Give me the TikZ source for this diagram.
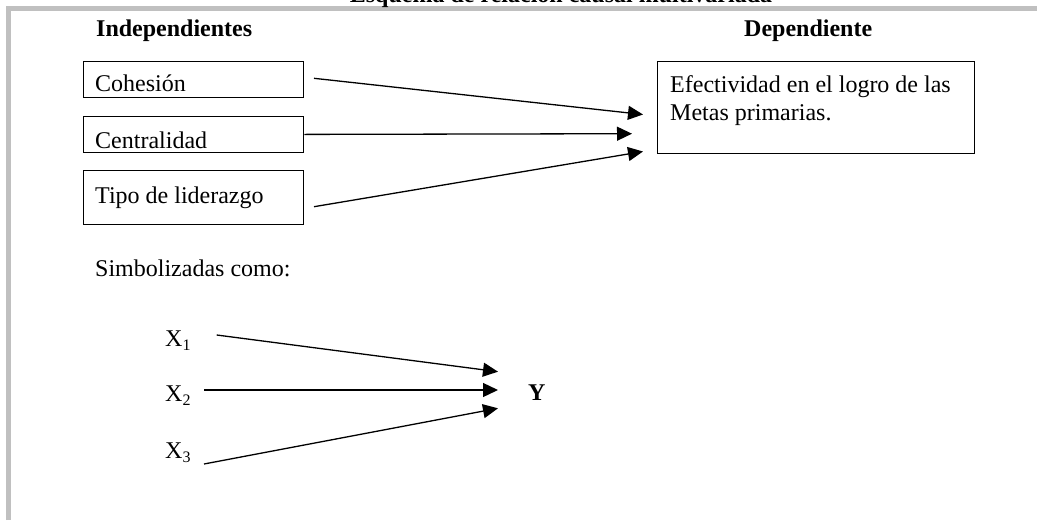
\documentclass[tikz,border=0pt]{standalone}
\usepackage{fontspec}
\setmainfont{Liberation Serif}
\usetikzlibrary{arrows.meta}
\definecolor{framegray}{RGB}{192,192,192}
\newcommand{\sub}[1]{\raisebox{-4pt}{\fontsize{16}{16}\selectfont #1}}
\begin{document}
\begin{tikzpicture}[x=1pt,y=-1pt,
  txt/.style={font=\fontsize{24}{28}\selectfont, inner sep=0pt, anchor=base west},
  btxt/.style={font=\fontsize{24}{28}\selectfont\bfseries, inner sep=0pt, anchor=base west},
  boxnode/.style={draw, line width=1.4pt, inner sep=0pt, anchor=north west},
  arr/.style={line width=1.3pt, -{Triangle[length=15pt,width=14pt]}},
  framerule/.style={draw=framegray, line width=5pt, line cap=butt, line join=miter}]
\useasboundingbox (0,0) rectangle (1037,520);
% frame
\draw[framerule] (8.5,520) -- (8.5,8.5) -- (1037,8.5);
% title (clipped at page top, as in the reference)
\node[btxt, anchor=base] (title) at (561,2.5) {Esquema de relación causal multivariada};
% headers
\node[btxt] (indep) at (96,36) {Independientes};
\node[btxt] (dep) at (744,36) {Dependiente};
% independent boxes
\node[boxnode, minimum width=220pt, minimum height=36pt] (coh) at (83,60.7) {};
\node[txt] (cohT) at (95,91.7) {Cohesión};
\node[boxnode, minimum width=220pt, minimum height=36pt] (cen) at (83,115.7) {};
\node[txt] (cenT) at (95,148) {Centralidad};
\node[boxnode, minimum width=220pt, minimum height=54pt] (tip) at (83,170) {};
\node[txt] (tipT) at (95,203.3) {Tipo de liderazgo};
% dependent box
\node[boxnode, minimum width=317pt, minimum height=92pt] (efe) at (657,60.5) {};
\node[txt] (efe1) at (670,92.3) {Efectividad en el logro de las};
\node[txt] (efe2) at (670,120.3) {Metas primarias.};
% arrows (top)
\coordinate (a1s) at (314,78.3);
\coordinate (a1e) at (643,114.5);
\coordinate (a2e) at (632,133.7);
\coordinate (a3s) at (314,206.7);
\coordinate (a3e) at (643,151.5);
\draw[arr] (a1s) -- (a1e);
\draw[arr] (cen.east) -- (a2e);
\draw[arr] (a3s) -- (a3e);
% symbolised
\node[txt] (simb) at (95,276) {Simbolizadas como:};
\node[txt] (x1) at (165,346) {X\sub{1}};
\node[txt] (x2) at (165,401) {X\sub{2}};
\node[txt] (x3) at (165,458) {X\sub{3}};
\node[btxt] (y) at (528,400) {Y};
\coordinate (b1s) at (216.7,335);
\coordinate (b1e) at (498,371.7);
\coordinate (b2s) at (204,390);
\coordinate (b2e) at (498,390);
\coordinate (b3s) at (204,464);
\coordinate (b3e) at (498,408.3);
\draw[arr] (b1s) -- (b1e);
\draw[arr] (b2s) -- (b2e);
\draw[arr] (b3s) -- (b3e);
\end{tikzpicture}
\end{document}
